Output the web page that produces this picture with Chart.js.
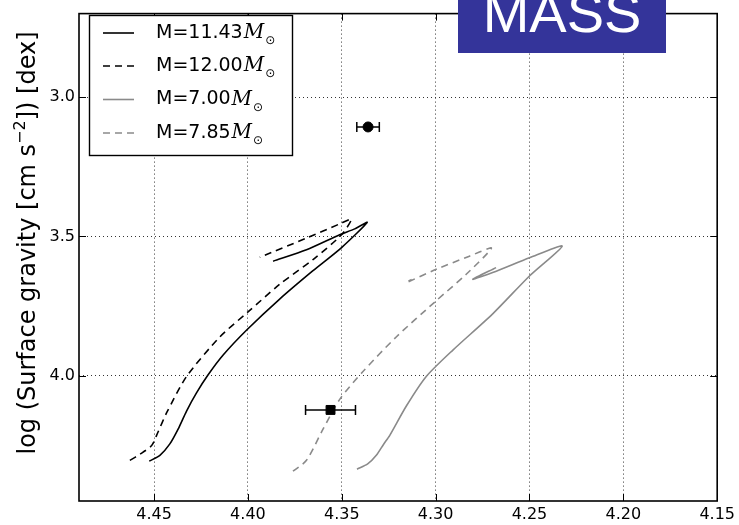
<!DOCTYPE html>
<html><head><meta charset="utf-8">
<script src="https://cdn.jsdelivr.net/npm/chart.js@4/dist/chart.umd.min.js"></script>
<style>html,body{margin:0;padding:0;background:#fff;}#wrap{width:739px;height:525px;}</style>
</head><body><div id="wrap"><canvas id="c" width="739" height="525"></canvas></div>
<script>
// ---- data (log Teff, log g) ----
const xTicks = [4.45, 4.40, 4.35, 4.30, 4.25, 4.20, 4.15];
const yTicks = [3.0, 3.5, 4.0];
const seriesLabels = ['11.43', '12.00', '7.00', '7.85'];

const m1143Teff = [4.4526, 4.4469, 4.4416, 4.4372, 4.4327, 4.4274, 4.4212, 4.4132, 4.4008, 4.3831, 4.3655, 4.3501, 4.3365, 4.3431, 4.3511, 4.3688, 4.3866];
const m1143Logg = [4.307, 4.286, 4.245, 4.192, 4.127, 4.062, 3.997, 3.926, 3.837, 3.725, 3.624, 3.540, 3.450, 3.473, 3.494, 3.548, 3.589];

const m1200Teff = [4.4629, 4.4575, 4.4513, 4.4480, 4.4433, 4.4327, 4.4150, 4.4001, 4.3831, 4.3653, 4.3501, 4.3449, 4.3511, 4.3688, 4.3937];
const m1200Logg = [4.304, 4.282, 4.251, 4.204, 4.133, 4.003, 3.861, 3.772, 3.672, 3.583, 3.494, 3.438, 3.455, 3.506, 3.575];

const m700Teff = [4.3419, 4.3362, 4.3316, 4.3277, 4.3245, 4.3156, 4.3050, 4.2908, 4.2696, 4.2500, 4.2326, 4.2500, 4.2696, 4.2802, 4.2678];
const m700Logg = [4.336, 4.317, 4.286, 4.246, 4.215, 4.109, 4.003, 3.908, 3.778, 3.642, 3.535, 3.577, 3.630, 3.654, 3.612];

const m785Teff = [4.3760, 4.3688, 4.3600, 4.3511, 4.3387, 4.3210, 4.2997, 4.2837, 4.2703, 4.2820, 4.2997, 4.3156, 4.3128];
const m785Logg = [4.343, 4.304, 4.192, 4.085, 3.985, 3.861, 3.731, 3.636, 3.542, 3.571, 3.618, 3.666, 3.654];

const obsTeff = [4.336, 4.356];
const obsTeffErr = [0.006, 0.0133];
const obsLogg = [3.107, 4.123];

const pts = (xs, ys) => xs.map((x, i) => ({x: x, y: ys[i]}));
const GRAY = '#8a8a8a';

const lineDs = (label, xs, ys, color, dash) => ({
  label: label, data: pts(xs, ys), showLine: true, pointRadius: 0, borderColor: color,
  borderWidth: 1.6, borderDash: dash, tension: 0.25, fill: false, order: 2
});

const datasets = [
  lineDs('M=11.43', m1143Teff, m1143Logg, '#000', []),
  lineDs('M=12.00', m1200Teff, m1200Logg, '#000', [7, 5]),
  lineDs('M=7.00', m700Teff, m700Logg, GRAY, []),
  lineDs('M=7.85', m785Teff, m785Logg, GRAY, [7, 5]),
  {label: 'obs1', data: [{x: obsTeff[0], y: obsLogg[0]}], pointStyle: 'circle', pointRadius: 5,
   backgroundColor: '#000', borderColor: '#000', order: 1},
  {label: 'obs2', data: [{x: obsTeff[1], y: obsLogg[1]}], pointStyle: 'rect', pointRadius: 6.3,
   backgroundColor: '#000', borderColor: '#000', order: 1}
];

const decor = {
  id: 'decor',
  beforeDatasetsDraw(chart) {
    const {ctx, scales: {x, y}} = chart;
    ctx.save();
    ctx.strokeStyle = '#000'; ctx.lineWidth = 1.5;
    for (let i = 0; i < obsTeff.length; i++) {
      const x0 = x.getPixelForValue(obsTeff[i] - obsTeffErr[i]);
      const x1 = x.getPixelForValue(obsTeff[i] + obsTeffErr[i]);
      const py = y.getPixelForValue(obsLogg[i]);
      ctx.beginPath();
      ctx.moveTo(x0, py); ctx.lineTo(x1, py);
      ctx.moveTo(x0, py - 5); ctx.lineTo(x0, py + 5);
      ctx.moveTo(x1, py - 5); ctx.lineTo(x1, py + 5);
      ctx.stroke();
    }
    ctx.restore();
  },
  afterDraw(chart) {
    const {ctx, chartArea: a, scales: {x, y}} = chart;
    ctx.save();
    // inward ticks
    ctx.strokeStyle = '#000'; ctx.lineWidth = 1;
    ctx.beginPath();
    xTicks.forEach(v => {
      const px = Math.round(x.getPixelForValue(v)) + 0.5;
      ctx.moveTo(px, a.bottom); ctx.lineTo(px, a.bottom - 7);
      ctx.moveTo(px, a.top); ctx.lineTo(px, a.top + 7);
    });
    yTicks.forEach(v => {
      const py = Math.round(y.getPixelForValue(v)) + 0.5;
      ctx.moveTo(a.left, py); ctx.lineTo(a.left + 7, py);
      ctx.moveTo(a.right, py); ctx.lineTo(a.right - 7, py);
    });
    ctx.stroke();
    // frame
    ctx.lineWidth = 1.6; ctx.strokeStyle = '#000';
    ctx.strokeRect(a.left, a.top, a.right - a.left, a.bottom - a.top);

    // y-axis title
    ctx.save();
    ctx.translate(29, 243);
    ctx.rotate(-Math.PI / 2);
    ctx.fillStyle = '#000';
    ctx.textBaseline = 'middle';
    const p1 = 'log (Surface gravity [cm s', sup = '\u22122', p2 = ']) [dex]';
    const f1 = '24px "DejaVu Sans"', f2 = '16px "DejaVu Sans"';
    ctx.font = f1; const w1 = ctx.measureText(p1).width, w3 = ctx.measureText(p2).width;
    ctx.font = f2; const w2 = ctx.measureText(sup).width;
    let sx = -(w1 + w2 + w3) / 2;
    ctx.font = f1; ctx.textAlign = 'left'; ctx.fillText(p1, sx, 0); sx += w1;
    ctx.font = f2; ctx.fillText(sup, sx, -8); sx += w2;
    ctx.font = f1; ctx.fillText(p2, sx, 0);
    ctx.restore();

    // legend
    ctx.fillStyle = '#fff';
    ctx.fillRect(89.5, 15.5, 203, 140);
    ctx.lineWidth = 1.4; ctx.strokeStyle = '#000';
    ctx.strokeRect(89.5, 15.5, 203, 140);
    const rows = [33, 66, 99.5, 133];
    datasets.slice(0, 4).forEach((d, i) => {
      const ry = rows[i];
      ctx.strokeStyle = d.borderColor; ctx.lineWidth = 1.6;
      ctx.setLineDash(d.borderDash);
      ctx.beginPath(); ctx.moveTo(103, ry); ctx.lineTo(134, ry); ctx.stroke();
      ctx.setLineDash([]);
      ctx.fillStyle = '#000'; ctx.textBaseline = 'middle'; ctx.textAlign = 'left';
      ctx.font = '19px "DejaVu Sans"';
      const t = 'M=' + seriesLabels[i];
      ctx.fillText(t, 156, ry);
      let tx = 156 + ctx.measureText(t).width + 1;
      ctx.font = 'italic 20px "DejaVu Serif"';
      ctx.fillText('M', tx, ry);
      tx += ctx.measureText('M').width + 1;
      ctx.font = '12px "DejaVu Sans"';
      ctx.fillText('\u2299', tx, ry + 8);
    });

    // MASS banner
    ctx.fillStyle = '#34349a';
    ctx.fillRect(458, 0, 208, 53);
    ctx.fillStyle = '#fff';
    ctx.font = '56px "Liberation Sans"';
    ctx.textAlign = 'center'; ctx.textBaseline = 'alphabetic';
    ctx.fillText('MASS', 562, 32);
    ctx.restore();
  }
};

new Chart(document.getElementById('c'), {
  type: 'scatter',
  data: {datasets: datasets},
  options: {
    responsive: false, animation: false,
    layout: {padding: {top: 6, right: 21, left: 0, bottom: 0}},
    plugins: {legend: {display: false}, tooltip: {enabled: false}},
    scales: {
      x: {
        type: 'linear', min: 4.15, max: 4.49, reverse: true,
        afterBuildTicks: s => { s.ticks = xTicks.map(v => ({value: v})); },
        afterFit: s => { s.height = 24; },
        grid: {color: '#333', lineWidth: 1, drawTicks: false},
        border: {display: false, dash: [1, 3]},
        ticks: {color: '#000', font: {family: 'DejaVu Sans', size: 16}, padding: 4,
                maxRotation: 0, autoSkip: false, callback: v => v.toFixed(2)}
      },
      y: {
        type: 'linear', min: 2.70, max: 4.45, reverse: true,
        afterBuildTicks: s => { s.ticks = yTicks.map(v => ({value: v})); },
        afterFit: s => { s.width = 79; },
        grid: {color: '#333', lineWidth: 1, drawTicks: false},
        border: {display: false, dash: [1, 3]},
        ticks: {color: '#000', font: {family: 'DejaVu Sans', size: 16}, padding: 4,
                callback: v => v.toFixed(1)}
      }
    }
  },
  plugins: [decor]
});
</script></body></html>
